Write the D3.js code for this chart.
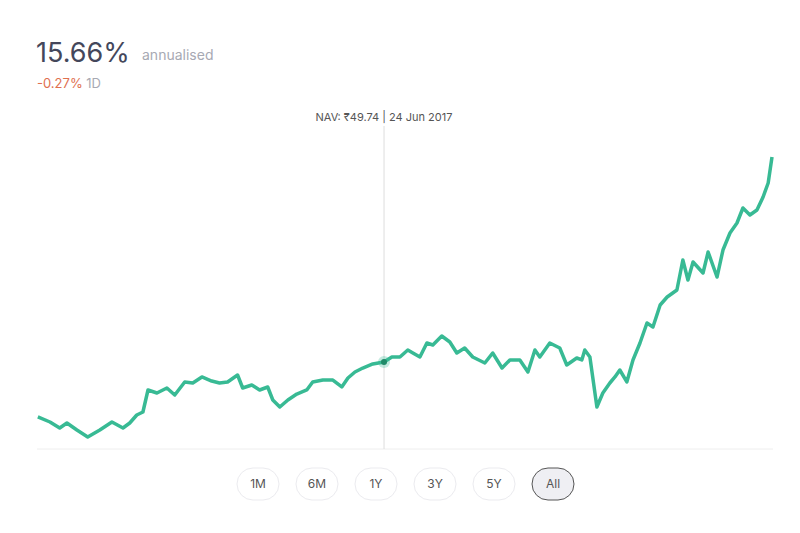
<!DOCTYPE html>
<html><head><meta charset="utf-8">
<script src="https://cdn.jsdelivr.net/npm/d3@7"></script>
<style>body{margin:0;background:#fff;font-family:Inter,"Noto Sans",sans-serif}</style>
</head><body><svg id="c" width="800" height="533"></svg>
<script>
var dates = ["2013-01-05","2013-03-03","2013-04-18","2013-05-22","2013-07-08","2013-08-28","2013-10-24","2013-12-20","2014-02-10","2014-03-14","2014-04-16","2014-05-15","2014-06-08","2014-07-20","2014-09-05","2014-10-12","2014-11-28","2015-01-05","2015-02-17","2015-04-04","2015-05-11","2015-06-18","2015-08-04","2015-08-28","2015-10-10","2015-11-16","2015-12-24","2016-01-17","2016-02-19","2016-03-28","2016-05-09","2016-06-25","2016-07-23","2016-09-09","2016-10-26","2016-12-07","2017-01-05","2017-02-07","2017-03-16","2017-05-02","2017-06-24","2017-07-31","2017-09-07","2017-10-14","2017-11-07","2017-12-10","2018-01-12","2018-02-09","2018-03-23","2018-04-30","2018-06-02","2018-07-09","2018-08-16","2018-10-12","2018-11-18","2019-01-01","2019-02-07","2019-03-26","2019-05-03","2019-06-05","2019-06-28","2019-08-14","2019-09-30","2019-11-02","2019-12-19","2020-01-12","2020-01-26","2020-02-19","2020-03-23","2020-04-20","2020-05-23","2020-06-16","2020-07-09","2020-08-11","2020-09-09","2020-10-12","2020-11-14","2020-12-12","2021-01-15","2021-02-17","2021-04-04","2021-05-02","2021-05-26","2021-06-19","2021-08-05","2021-08-29","2021-10-10","2021-11-07","2021-12-10","2022-01-12","2022-02-09","2022-03-14","2022-04-16","2022-05-15","2022-06-08","2022-06-26"];
var nav = [31.17,29.48,27.45,29.14,26.78,24.41,26.78,29.48,27.45,29.14,31.84,32.86,40.29,39.27,40.96,38.60,42.99,42.65,44.68,43.32,42.65,42.99,45.35,40.96,41.97,40.29,41.30,36.91,34.54,36.91,38.93,40.29,42.99,43.66,43.66,41.30,44.34,46.36,47.71,49.07,49.74,51.43,51.43,53.79,52.78,51.43,56.16,55.48,58.52,56.49,52.78,54.47,51.43,49.40,52.78,47.71,50.42,50.42,46.36,53.79,51.43,56.16,54.47,48.73,51.09,50.42,53.79,51.43,34.54,39.27,42.65,44.68,47.04,42.99,50.42,56.16,62.91,61.56,68.99,71.69,74.06,84.19,77.43,83.51,79.80,86.89,78.44,87.56,93.30,96.68,101.75,99.38,101.07,105.46,110.19,118.97,124.71,124.03];
var periods = ["1M","6M","1Y","3Y","5Y","All"];
var hoverIndex = 40;

var parse = d3.timeParse("%Y-%m-%d");
var data = dates.map(function (d, i) { return {date: parse(d), v: nav[i]}; });
var svg = d3.select("#c");
var x = d3.scaleTime().domain([parse("2013-01-01"), parse("2022-06-26")]).range([37, 772]);
var y = d3.scaleLinear().domain([23.4, 124.71]).range([440, 140]);

svg.append("text").attr("x", 36).attr("y", 62).attr("font-size", 27).attr("fill", "#44475b").text("15.66%");
svg.append("text").attr("x", 142).attr("y", 60).attr("font-size", 14).attr("fill", "#a7a9b3").text("annualised");
var t = svg.append("text").attr("x", 37).attr("y", 88).attr("font-size", 13);
t.append("tspan").attr("fill", "#e0704f").text("-0.27%");
t.append("tspan").attr("fill", "#a7a9b3").text(" 1D");

svg.append("line").attr("x1", 37).attr("x2", 773).attr("y1", 449).attr("y2", 449).attr("stroke", "#eeeeee");
var h = data[hoverIndex];
svg.append("line").attr("x1", x(h.date)).attr("x2", x(h.date)).attr("y1", 126).attr("y2", 449).attr("stroke", "#dddddd");
svg.append("text").attr("x", x(h.date)).attr("y", 121).attr("text-anchor", "middle").attr("font-size", 11).attr("fill", "#555")
  .text("NAV: ₹" + h.v.toFixed(2) + " | " + d3.timeFormat("%d %b %Y")(h.date));

svg.append("path").datum(data).attr("fill", "none").attr("stroke", "#38ba94").attr("stroke-width", 3.5)
  .attr("stroke-linejoin", "round").attr("d", d3.line().x(function (d) { return x(d.date); }).y(function (d) { return y(d.v); }));
svg.append("circle").attr("cx", x(h.date)).attr("cy", y(h.v)).attr("r", 6).attr("fill", "#38ba94").attr("opacity", 0.3);
svg.append("circle").attr("cx", x(h.date)).attr("cy", y(h.v)).attr("r", 3).attr("fill", "#1f8a68");

var bx = d3.scalePoint().domain(periods).range([258, 553]);
var b = svg.selectAll(".btn").data(periods).enter().append("g").attr("transform", function (d) { return "translate(" + bx(d) + ",484)"; });
b.append("rect").attr("x", -21).attr("y", -16).attr("width", 42).attr("height", 32).attr("rx", 16)
  .attr("fill", function (d) { return d === "All" ? "#efeff3" : "#fff"; })
  .attr("stroke", function (d) { return d === "All" ? "#555" : "#ebebef"; });
b.append("text").attr("text-anchor", "middle").attr("y", 4).attr("font-size", 12).attr("fill", "#555").text(function (d) { return d; });
</script></body></html>
